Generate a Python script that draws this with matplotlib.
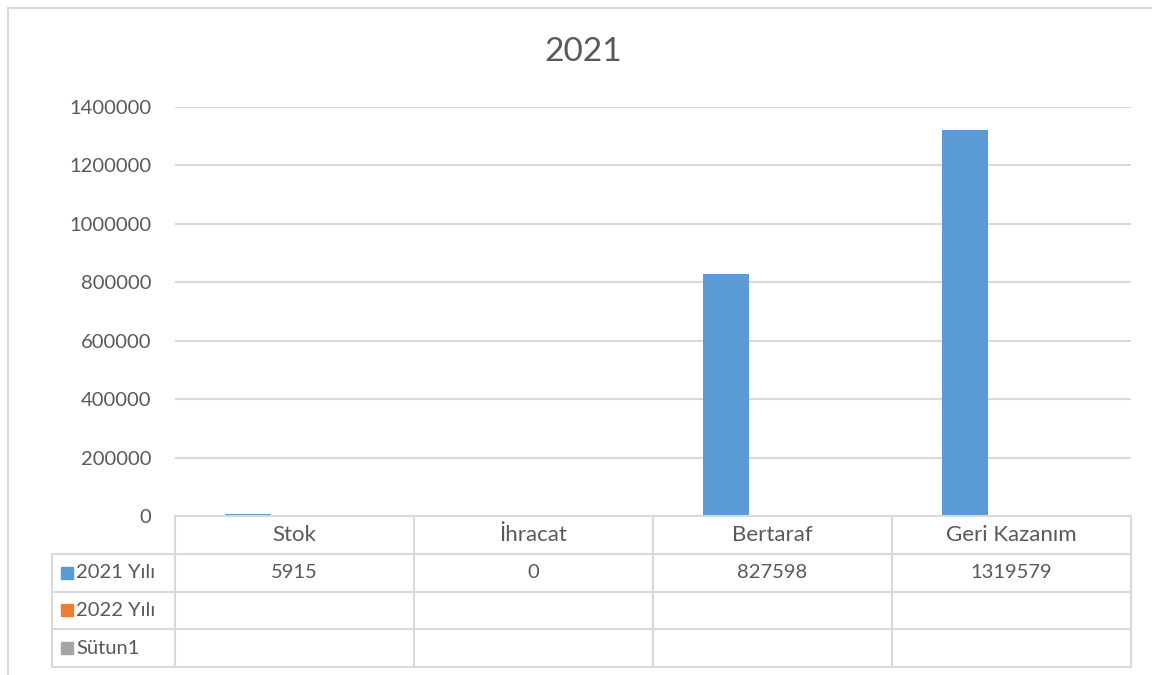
import matplotlib.pyplot as plt
from matplotlib.lines import Line2D

plt.rcParams['font.family'] = ['Lato', 'DejaVu Sans']

categories = ["Stok", "İhracat", "Bertaraf", "Geri Kazanım"]
series_names = ["2021 Yılı", "2022 Yılı", "Sütun1"]
series_colors = ["#5B9BD5", "#ED7D31", "#A5A5A5"]
values_2021 = [5915, 0, 827598, 1319579]
values_2022 = [None, None, None, None]
values_sutun1 = [None, None, None, None]
yticks = [0, 200000, 400000, 600000, 800000, 1000000, 1200000, 1400000]
title = "2021"

series_values = [values_2021, values_2022, values_sutun1]
text_color = "#595959"
line_color = "#D9D9D9"
fs_num = 14.5
fs_txt = 16

W, H = 1152, 675
fig = plt.figure(figsize=(W / 100, H / 100), dpi=100)


def fx(px):
    return px / W


def fy(py):
    return 1 - py / H


# plot area
ax = fig.add_axes([fx(175), fy(516), fx(1131) - fx(175), fy(107) - fy(516)])
bar_w = 0.1925
for k, (vals, color) in enumerate(zip(series_values, series_colors)):
    for i, v in enumerate(vals):
        if v is None:
            continue
        ax.bar(i + (k - 1) * bar_w, v, width=bar_w, color=color, zorder=3)

ax.set_xlim(-0.5, len(categories) - 0.5)
ax.set_ylim(0, yticks[-1])
ax.set_yticks(yticks)
ax.set_yticklabels([str(t) for t in yticks])
ax.set_xticks([])
ax.tick_params(axis="y", length=0, pad=17, labelsize=fs_num, labelcolor=text_color)
ax.grid(axis="y", color=line_color, linewidth=1.5, zorder=0)
for s in ax.spines.values():
    s.set_visible(False)

fig.text(fx(583), fy(52), title, ha="center", va="center", fontsize=24, color=text_color)

# data table under the plot
legend_left = -0.5 - (175 - 52) / 239
tax = fig.add_axes([fx(52), fy(667), fx(1131) - fx(52), fy(516) - fy(667)])
tax.set_xlim(legend_left, len(categories) - 0.5)
tax.set_ylim(4, 0)
tax.axis("off")

lw = 1.5
tax.plot([-0.5, 3.5], [0, 0], color=line_color, lw=lw, clip_on=False)
for r in range(1, 5):
    tax.plot([legend_left, 3.5], [r, r], color=line_color, lw=lw, clip_on=False)
tax.plot([legend_left, legend_left], [1, 4], color=line_color, lw=lw, clip_on=False)
for c in range(len(categories) + 1):
    tax.plot([c - 0.5, c - 0.5], [0, 4], color=line_color, lw=lw, clip_on=False)

for i, cat in enumerate(categories):
    tax.text(i, 0.5, cat, ha="center", va="center", fontsize=fs_txt, color=text_color)

for k, (name, color, vals) in enumerate(zip(series_names, series_colors, series_values)):
    row = k + 1.5
    tax.plot([legend_left + 15 / 239], [row], marker="s", markersize=8,
             color=color, clip_on=False)
    tax.text(legend_left + 24 / 239, row, name, ha="left", va="center",
             fontsize=fs_num, color=text_color)
    for i, v in enumerate(vals):
        if v is not None:
            tax.text(i, row, str(v), ha="center", va="center", fontsize=fs_num, color=text_color)

# chart border
fig.add_artist(Line2D([fx(7.5), fx(7.5)], [fy(8), 0], color=line_color, lw=1.5))
fig.add_artist(Line2D([fx(7.5), 1], [fy(8), fy(8)], color=line_color, lw=1.5))

fig.savefig("out.png", dpi=100, facecolor="white")
